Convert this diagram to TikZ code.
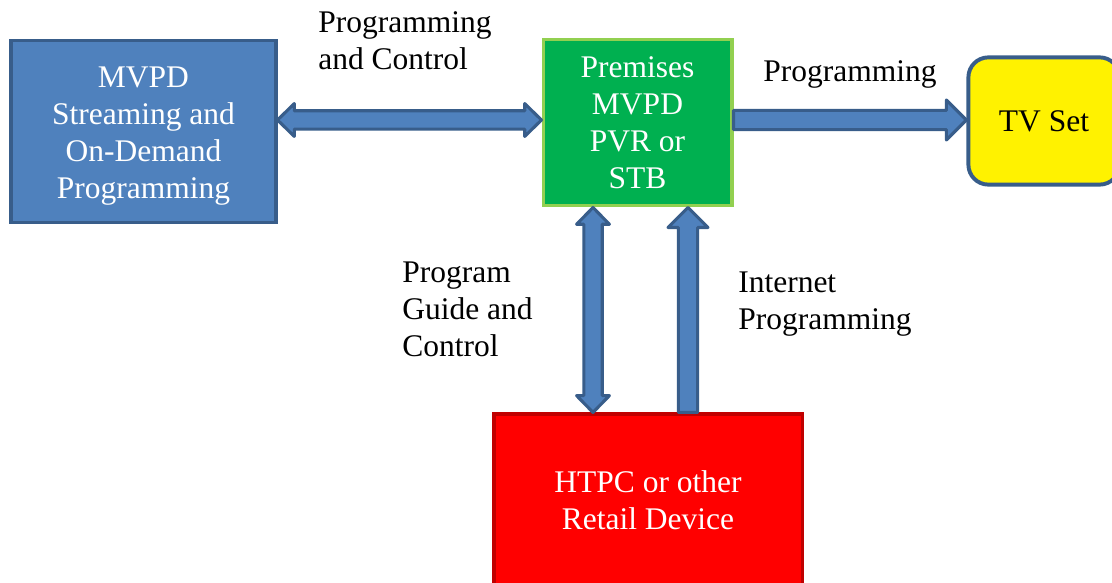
\documentclass[tikz,border=0pt]{standalone}
\usepackage{fontspec}
\setmainfont{Liberation Serif}
\usepackage{xcolor}
\usepackage{tikz}
\usetikzlibrary{calc}

\definecolor{boxblue}{HTML}{4F81BD}
\definecolor{edgeblue}{HTML}{385D8A}
\definecolor{boxgreen}{HTML}{00B050}
\definecolor{edgegreen}{HTML}{92D050}
\definecolor{edgered}{HTML}{C00000}

\tikzset{
  box/.style={draw, line width=2.8pt, align=center, inner sep=0pt, text=white,
    font=\fontsize{22.4}{26.3}\selectfont},
  lbl/.style={align=left, anchor=west, inner sep=0pt,
    font=\fontsize{22.4}{26.3}\selectfont},
  blockarrow/.style={draw=edgeblue, fill=boxblue, line width=2.2pt, line join=round},
}

% fat arrow with one head, from #1 to #2
\newcommand{\onewayarrow}[2]{%
  \coordinate (hb) at ($(#2)!0.5cm!(#1)$);
  \draw[blockarrow] ($(#1)!0.24cm!90:(#2)$) -- ($(hb)!0.24cm!90:(#2)$)
    -- ($(hb)!0.5cm!90:(#2)$) -- (#2) -- ($(hb)!0.5cm!-90:(#2)$)
    -- ($(hb)!0.24cm!-90:(#2)$) -- ($(#1)!0.24cm!-90:(#2)$) -- cycle;}
% fat arrow with a head at both ends
\newcommand{\twowayarrow}[2]{%
  \coordinate (ha) at ($(#1)!0.42cm!(#2)$);
  \coordinate (hb) at ($(#2)!0.42cm!(#1)$);
  \draw[blockarrow] (#1) -- ($(ha)!0.41cm!90:(#2)$) -- ($(ha)!0.23cm!90:(#2)$)
    -- ($(hb)!0.23cm!90:(#2)$) -- ($(hb)!0.41cm!90:(#2)$) -- (#2)
    -- ($(hb)!0.41cm!-90:(#2)$) -- ($(hb)!0.23cm!-90:(#2)$)
    -- ($(ha)!0.23cm!-90:(#2)$) -- ($(ha)!0.41cm!-90:(#2)$) -- cycle;}

\begin{document}
\begin{tikzpicture}[x=0.025cm, y=-0.025cm]
\useasboundingbox (0,0) rectangle (1112,583);
\clip (0,0) rectangle (1112,583);

% boxes
\node[box, draw=edgeblue, fill=boxblue, minimum width=6.6cm, minimum height=4.55cm]
  (mvpd) at (143.5,131.5) {\\[-0.2cm]MVPD\\Streaming and\\On-Demand\\Programming};
\node[box, draw=edgegreen, fill=boxgreen, minimum width=4.7cm, minimum height=4.15cm]
  (premises) at (637.5,122.5) {Premises\\MVPD\\PVR or\\STB};
\node[box, draw=edgeblue, fill=yellow, text=black, rounded corners=0.5cm,
  minimum width=3.78cm, minimum height=3.18cm] (tv) at (1044,121) {TV Set};
\node[box, draw=edgered, fill=red, line width=2.2pt, minimum width=7.7cm, minimum height=4.3cm]
  (htpc) at (648,500) {HTPC or other\\Retail Device};

% labels
\node[lbl] (pclabel) at (318,41) {Programming\\and Control};
\node[lbl] (plabel) at (763,74) {Programming};
\node[lbl] (gclabel) at (402,309) {Program\\Guide and\\Control};
\node[lbl] (iplabel) at (738,304) {Internet\\Programming};

% arrows
\coordinate (cl) at (mvpd.east |- 0,120);
\coordinate (cr) at (premises.west |- 0,120);
\twowayarrow{cl}{cr}
\coordinate (tvout) at (premises.east |- 0,120);
\coordinate (tvin) at (tv.west |- 0,120);
\onewayarrow{tvout}{tvin}
\coordinate (gtop) at ($(premises.south)+(-44.5,0)$);
\coordinate (gbot) at (gtop |- htpc.north);
\twowayarrow{gtop}{gbot}
\coordinate (itop) at ($(premises.south)+(50.5,0)$);
\coordinate (ibot) at (itop |- htpc.north);
\onewayarrow{ibot}{itop}
\end{tikzpicture}
\end{document}
